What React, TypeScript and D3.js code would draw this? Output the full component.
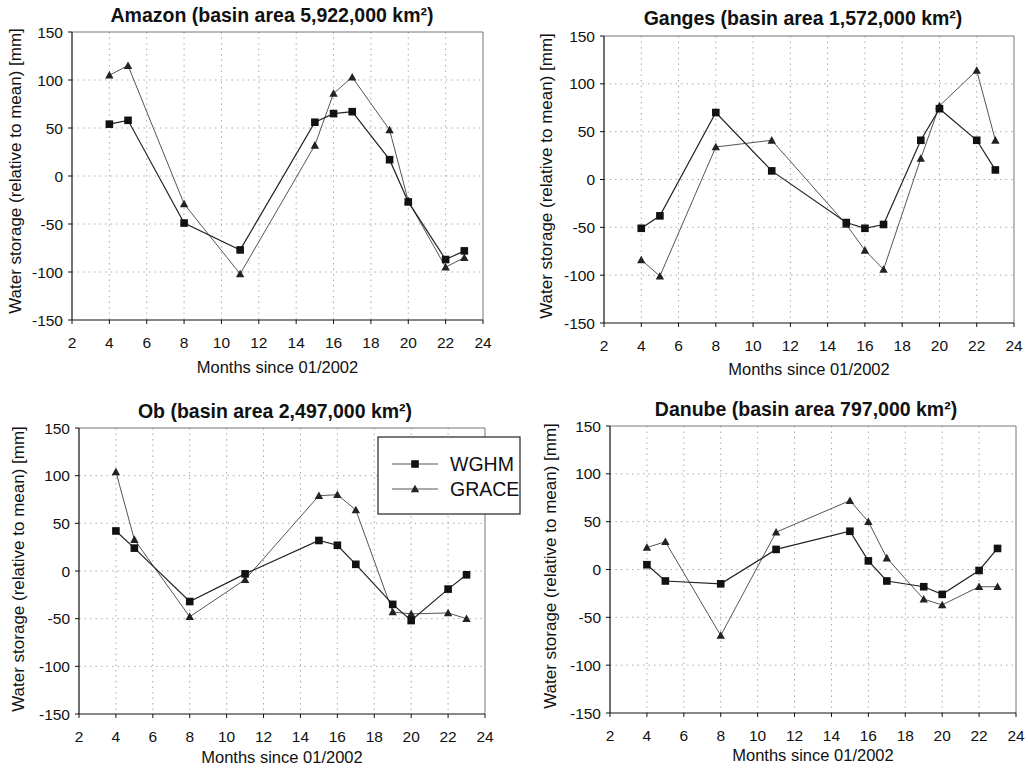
import React from "react";
import * as d3 from "d3";

const months = [4, 5, 8, 11, 15, 16, 17, 19, 20, 22, 23];

const amazonWGHM = [54, 58, -49, -77, 56, 65, 67, 17, -27, -87, -78];
const amazonGRACE = [105, 115, -29, -102, 32, 86, 103, 48, -26, -95, -85];

const gangesWGHM = [-51, -38, 70, 9, -45, -51, -47, 41, 74, 41, 10];
const gangesGRACE = [-84, -101, 34, 41, -47, -74, -94, 22, 77, 114, 41];

const obWGHM = [42, 24, -32, -3, 32, 27, 7, -35, -52, -19, -4];
const obGRACE = [104, 33, -48, -9, 79, 80, 64, -43, -45, -44, -50];

const danubeWGHM = [5, -12, -15, 21, 40, 9, -12, -18, -26, -1, 22];
const danubeGRACE = [23, 29, -69, 39, 72, 50, 12, -31, -37, -18, -18];

const xTicks = [2, 4, 6, 8, 10, 12, 14, 16, 18, 20, 22, 24];
const yTicks = [-150, -100, -50, 0, 50, 100, 150];

const titles = [
  "Amazon (basin area 5,922,000 km²)",
  "Ganges (basin area 1,572,000 km²)",
  "Ob (basin area 2,497,000 km²)",
  "Danube (basin area 797,000 km²)",
];
const seriesNames = ["WGHM", "GRACE"];
const xLabel = "Months since 01/2002";
const yLabel = "Water storage (relative to mean) [mm]";

const FONT = "'Liberation Sans', Arial, sans-serif";

const layouts = [
  { left: 72, right: 483, top: 32, bottom: 320, titleY: 22, titleX: 272, xLabY: 373, yLabX: 21, yLabC: 171 },
  { left: 604, right: 1014, top: 36, bottom: 323, titleY: 25, titleX: 803, xLabY: 375, yLabX: 552, yLabC: 176 },
  { left: 79, right: 485, top: 428, bottom: 714, titleY: 418, titleX: 275, xLabY: 763, yLabX: 24, yLabC: 569 },
  { left: 610, right: 1016, top: 426, bottom: 713, titleY: 416, titleX: 806, xLabY: 761, yLabX: 556, yLabC: 566 },
];

const panelData = [
  [amazonWGHM, amazonGRACE],
  [gangesWGHM, gangesGRACE],
  [obWGHM, obGRACE],
  [danubeWGHM, danubeGRACE],
];

function Square({ x, y }: { x: number; y: number }) {
  return <rect x={x - 3.8} y={y - 3.8} width={7.6} height={7.6} fill="#111" />;
}
function Triangle({ x, y }: { x: number; y: number }) {
  const s = 4.2;
  return (
    <path
      d={`M${x},${y - s} L${x + s},${y + s * 0.8} L${x - s},${y + s * 0.8} Z`}
      fill="#222"
    />
  );
}

function Panel({ idx }: { idx: number }) {
  const L = layouts[idx];
  const xs = d3.scaleLinear().domain([2, 24]).range([L.left, L.right]);
  const ys = d3.scaleLinear().domain([-150, 150]).range([L.bottom, L.top]);
  const [w, g] = panelData[idx];
  const line = d3
    .line<number>()
    .x((_, i) => xs(months[i]))
    .y((d) => ys(d));
  return (
    <g>
      <text
        x={L.titleX}
        y={L.titleY}
        textAnchor="middle"
        fontFamily={FONT}
        fontWeight="bold"
        fontSize={19.5}
        fill="#111"
      >
        {titles[idx]}
      </text>
      {/* grid */}
      {xTicks.slice(1, -1).map((t) => (
        <line
          key={"gx" + t}
          x1={xs(t)}
          x2={xs(t)}
          y1={L.top}
          y2={L.bottom}
          stroke="#aaa"
          strokeWidth={1}
          strokeDasharray="1.5,4"
        />
      ))}
      {yTicks.slice(1, -1).map((t) => (
        <line
          key={"gy" + t}
          x1={L.left}
          x2={L.right}
          y1={ys(t)}
          y2={ys(t)}
          stroke="#aaa"
          strokeWidth={1}
          strokeDasharray="1.5,4"
        />
      ))}
      {/* frame */}
      <line x1={L.left} x2={L.right} y1={L.top} y2={L.top} stroke="#777" strokeWidth={1} />
      <line x1={L.right} x2={L.right} y1={L.top} y2={L.bottom} stroke="#777" strokeWidth={1} />
      <line x1={L.left} x2={L.left} y1={L.top} y2={L.bottom} stroke="#111" strokeWidth={1.2} />
      <line x1={L.left} x2={L.right} y1={L.bottom} y2={L.bottom} stroke="#111" strokeWidth={1.2} />
      {/* ticks */}
      {xTicks.map((t) => (
        <g key={"xt" + t}>
          <line x1={xs(t)} x2={xs(t)} y1={L.bottom} y2={L.bottom + 4} stroke="#111" />
          <text
            x={xs(t)}
            y={L.bottom + 28}
            textAnchor="middle"
            fontFamily={FONT}
            fontSize={15.5}
            fill="#111"
          >
            {t}
          </text>
        </g>
      ))}
      {yTicks.map((t) => (
        <g key={"yt" + t}>
          <line x1={L.left - 4} x2={L.left} y1={ys(t)} y2={ys(t)} stroke="#111" />
          <text
            x={L.left - 9}
            y={ys(t) + 5.5}
            textAnchor="end"
            fontFamily={FONT}
            fontSize={15.5}
            fill="#111"
          >
            {t}
          </text>
        </g>
      ))}
      <text
        x={(L.left + L.right) / 2}
        y={L.xLabY}
        textAnchor="middle"
        fontFamily={FONT}
        fontSize={16.5}
        fill="#111"
      >
        {xLabel}
      </text>
      <text
        transform={`translate(${L.yLabX},${L.yLabC}) rotate(-90)`}
        textAnchor="middle"
        fontFamily={FONT}
        fontSize={17}
        fill="#111"
      >
        {yLabel}
      </text>
      {/* series */}
      <path d={line(g) || ""} fill="none" stroke="#555" strokeWidth={1} />
      <path d={line(w) || ""} fill="none" stroke="#222" strokeWidth={1.2} />
      {g.map((v, i) => (
        <Triangle key={"g" + i} x={xs(months[i])} y={ys(v)} />
      ))}
      {w.map((v, i) => (
        <Square key={"w" + i} x={xs(months[i])} y={ys(v)} />
      ))}
    </g>
  );
}

function Legend() {
  const x0 = 378,
    y0 = 437,
    w = 142,
    h = 77;
  const rows = [464, 489];
  return (
    <g>
      <rect x={x0} y={y0} width={w} height={h} fill="#fff" stroke="#222" strokeWidth={1.2} />
      {seriesNames.map((n, i) => (
        <g key={n}>
          <line x1={392} x2={438} y1={rows[i]} y2={rows[i]} stroke="#555" strokeWidth={1} />
          {i === 0 ? <Square x={415} y={rows[i]} /> : <Triangle x={415} y={rows[i]} />}
          <text x={450} y={rows[i] + 7} fontFamily={FONT} fontSize={19.5} fill="#111">
            {n}
          </text>
        </g>
      ))}
    </g>
  );
}

export default function App() {
  return (
    <svg
      width={1028}
      height={770}
      style={{ position: "absolute", left: 0, top: 0, background: "#fff" }}
    >
      <rect x={0} y={0} width={1028} height={770} fill="#fff" />
      {[0, 1, 2, 3].map((i) => (
        <Panel key={i} idx={i} />
      ))}
      <Legend />
    </svg>
  );
}
